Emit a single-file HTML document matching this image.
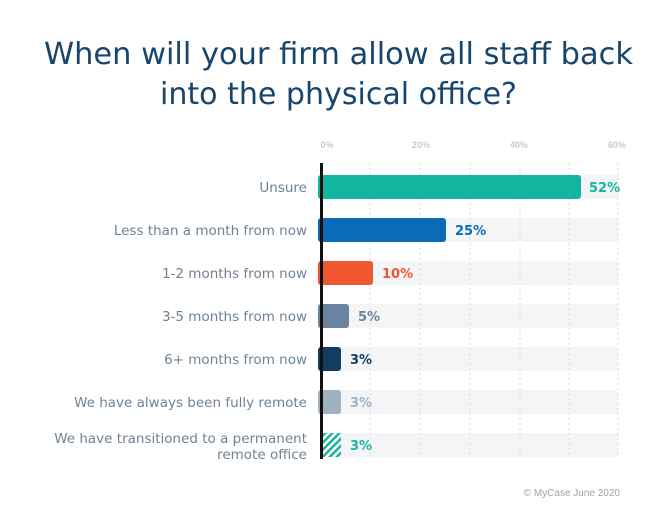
<!DOCTYPE html>
<html><head><meta charset="utf-8"><style>
body{margin:0;background:#fff;width:662px;height:510px;overflow:hidden;font-family:"Liberation Sans",sans-serif}
</style></head><body>
<svg width="662" height="510" xmlns="http://www.w3.org/2000/svg">
<defs><pattern id="h" width="5" height="5" patternUnits="userSpaceOnUse" patternTransform="rotate(45)"><rect width="5" height="5" fill="#fff"/><rect width="2.5" height="5" fill="#1cb39e"/></pattern></defs>
<text x="44" y="64" font-size="30" fill="#17456b" font-family="DejaVu Sans" textLength="589" lengthAdjust="spacingAndGlyphs">When will your firm allow all staff back</text>
<text x="160" y="104" font-size="30" fill="#17456b" font-family="DejaVu Sans" textLength="357" lengthAdjust="spacingAndGlyphs">into the physical office?</text>
<g font-size="9" fill="#c8ccd0" font-weight="bold" text-anchor="middle">
<text x="327" y="148">0%</text><text x="421" y="148">20%</text><text x="519" y="148">40%</text><text x="617" y="148">60%</text></g>
<g fill="#f4f5f7">
<rect x="321" y="175" width="297" height="24"/><rect x="321" y="218" width="297" height="24"/><rect x="321" y="261" width="297" height="24"/><rect x="321" y="304" width="297" height="24"/><rect x="321" y="347" width="297" height="24"/><rect x="321" y="390" width="297" height="24"/><rect x="321" y="433" width="297" height="24"/></g>
<g stroke="#d6d9dc" stroke-dasharray="2,3">
<line x1="370" y1="163" x2="370" y2="458"/><line x1="420" y1="163" x2="420" y2="458"/><line x1="470" y1="163" x2="470" y2="458"/><line x1="520" y1="163" x2="520" y2="458"/><line x1="569" y1="163" x2="569" y2="458"/><line x1="618" y1="163" x2="618" y2="458"/></g>
<rect x="318" y="175" width="263" height="24" rx="3" fill="#12b5a0"/>
<rect x="318" y="218" width="128" height="24" rx="3" fill="#0b6bb8"/>
<rect x="318" y="261" width="55" height="24" rx="3" fill="#f25532"/>
<rect x="318" y="304" width="31" height="24" rx="3" fill="#68849f"/>
<rect x="318" y="347" width="23" height="24" rx="3" fill="#123d63"/>
<rect x="318" y="390" width="23" height="24" rx="3" fill="#9fb2c0"/>
<rect x="321" y="433" width="20" height="24" fill="url(#h)"/>
<rect x="320" y="163" width="3" height="296" fill="#111"/>
<g font-size="13" font-weight="bold" font-family="DejaVu Sans">
<text x="589" y="192" fill="#12b5a0">52%</text>
<text x="455" y="235" fill="#0b6bb8">25%</text>
<text x="382" y="278" fill="#f25532">10%</text>
<text x="358" y="321" fill="#68849f">5%</text>
<text x="350" y="364" fill="#123d63">3%</text>
<text x="350" y="407" fill="#9fb2c0">3%</text>
<text x="350" y="450" fill="#12b5a0">3%</text></g>
<g font-size="13.5" fill="#6f8293" text-anchor="end" font-family="DejaVu Sans">
<text x="307" y="192">Unsure</text>
<text x="307" y="235">Less than a month from now</text>
<text x="307" y="278">1-2 months from now</text>
<text x="307" y="321">3-5 months from now</text>
<text x="307" y="364">6+ months from now</text>
<text x="307" y="407">We have always been fully remote</text>
<text x="307" y="443">We have transitioned to a permanent</text>
<text x="307" y="459">remote office</text></g>
<text x="620" y="496" font-size="10" fill="#9aa4ad" text-anchor="end">© MyCase June 2020</text>
</svg>
</body></html>
